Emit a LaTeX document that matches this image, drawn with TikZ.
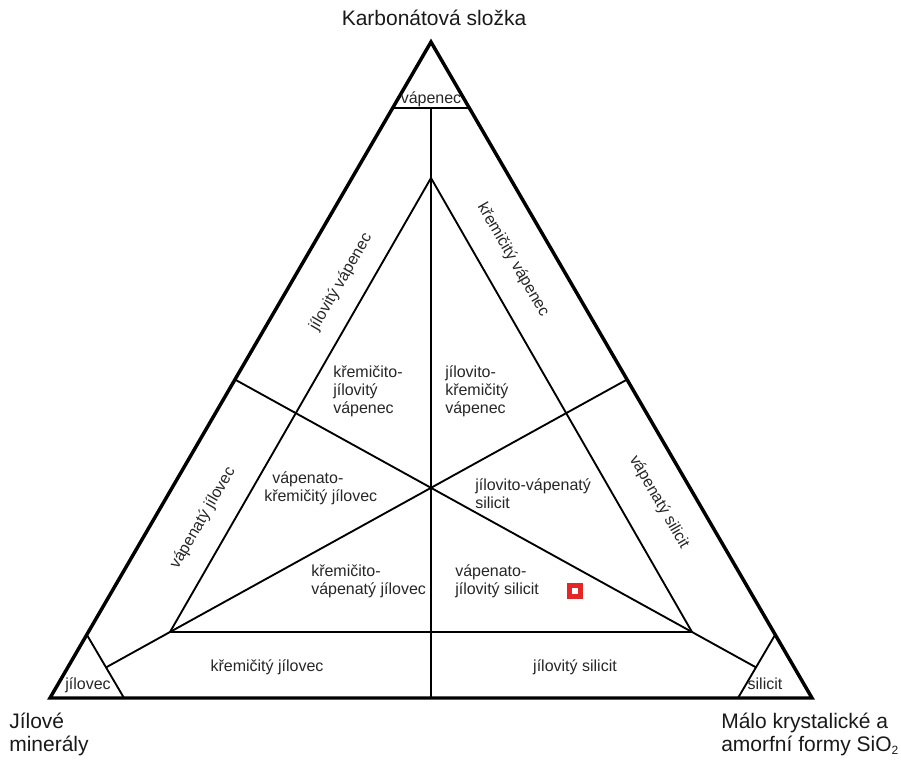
\documentclass[tikz,border=0pt]{standalone}
\usepackage{fontspec}
\setmainfont{Liberation Sans}
\begin{document}
\begin{tikzpicture}[x=0.75pt,y=-0.75pt,
  outer/.style={line width=2.6pt, line join=miter},
  inner/.style={line width=1.4pt},
  lab/.style={font=\fontsize{12}{13.5}\selectfont, text=black!85, inner sep=0pt, align=left},
  big/.style={font=\fontsize{15.75}{17.25}\selectfont, text=black!90, inner sep=0pt, align=left}]
\useasboundingbox (0,0) rectangle (901,760);
% outer triangle
\coordinate (A) at (431,42);
\coordinate (B) at (50,698);
\coordinate (C) at (812,698);
% inner triangle
\coordinate (IA) at (431,178);
\coordinate (IB) at (170,632);
\coordinate (IC) at (692,632);
\coordinate (O) at (431,488);
% side points
\coordinate (L) at (234,379);
\coordinate (R) at (628,379);
% corner cuts
\coordinate (VL) at (392.7,108);
\coordinate (VR) at (469.3,108);
\coordinate (V) at (431,108);
\coordinate (JT) at (87,635);
\coordinate (JB) at (124,698);
\coordinate (ST) at (775,635);
\coordinate (SB) at (738,698);
\coordinate (M) at (431,698);
\coordinate (JX) at (intersection of JT--JB and R--IB);
\coordinate (SX) at (intersection of ST--SB and L--IC);

\draw[outer] (A) -- (B) -- (C) -- cycle;
\draw[inner] (VL) -- (VR);
\draw[inner] (V) -- (M);
\draw[inner] (IA) -- (IB) -- (IC) -- cycle;
\draw[inner] (L) -- (IC) -- (SX);
\draw[inner] (R) -- (IB) -- (JX);
\draw[inner] (JT) -- (JB);
\draw[inner] (ST) -- (SB);

% labels
\node[big] (title) at (434,18) {Karbonátová složka};
\node[big, anchor=west] (jm) at (9,734) {Jílové\\minerály};
\node[big, anchor=west] (si) at (721,734) {Málo krystalické a\\amorfní formy SiO\raisebox{-0.35ex}{\fontsize{9}{9}\selectfont 2}};

\node[lab] (vap) at (431,99) {vápenec};
\node[lab] (jil) at (88,685) {jílovec};
\node[lab] (sil) at (765,684) {silicit};
\node[lab] (kj) at (267,667) {křemičitý jílovec};
\node[lab] (js) at (575,667) {jílovitý silicit};

\node[lab, anchor=west] (kjv) at (333,391) {křemičito-\\jílovitý\\vápenec};
\node[lab, anchor=west] (jkv) at (445,391) {jílovito-\\křemičitý\\vápenec};
\node[lab, anchor=west] (jvs) at (475,494) {jílovito-vápenatý\\silicit};
\node[lab, anchor=west] (vkj) at (264,488) {\hspace*{6pt}vápenato-\\křemičitý jílovec};
\node[lab, anchor=west] (kvj) at (311,581) {křemičito-\\vápenatý jílovec};
\node[lab, anchor=west] (vjs) at (455,581) {vápenato-\\jílovitý silicit};

\node[lab, rotate=60] (jv) at (341,282) {jílovitý vápenec};
\node[lab, rotate=-60] (kv) at (513,260) {křemičitý vápenec};
\node[lab, rotate=60] (vj) at (203,518) {vápenatý jílovec};
\node[lab, rotate=-60] (vs) at (659,502) {vápenatý silicit};

% red marker
\node[draw=none, fill={rgb,255:red,228;green,38;blue,38}, minimum size=12pt, inner sep=0pt] (mk) at (575,591) {};
\node[fill=white, minimum size=4.5pt, inner sep=0pt] (mki) at (mk) {};
\end{tikzpicture}
\end{document}
